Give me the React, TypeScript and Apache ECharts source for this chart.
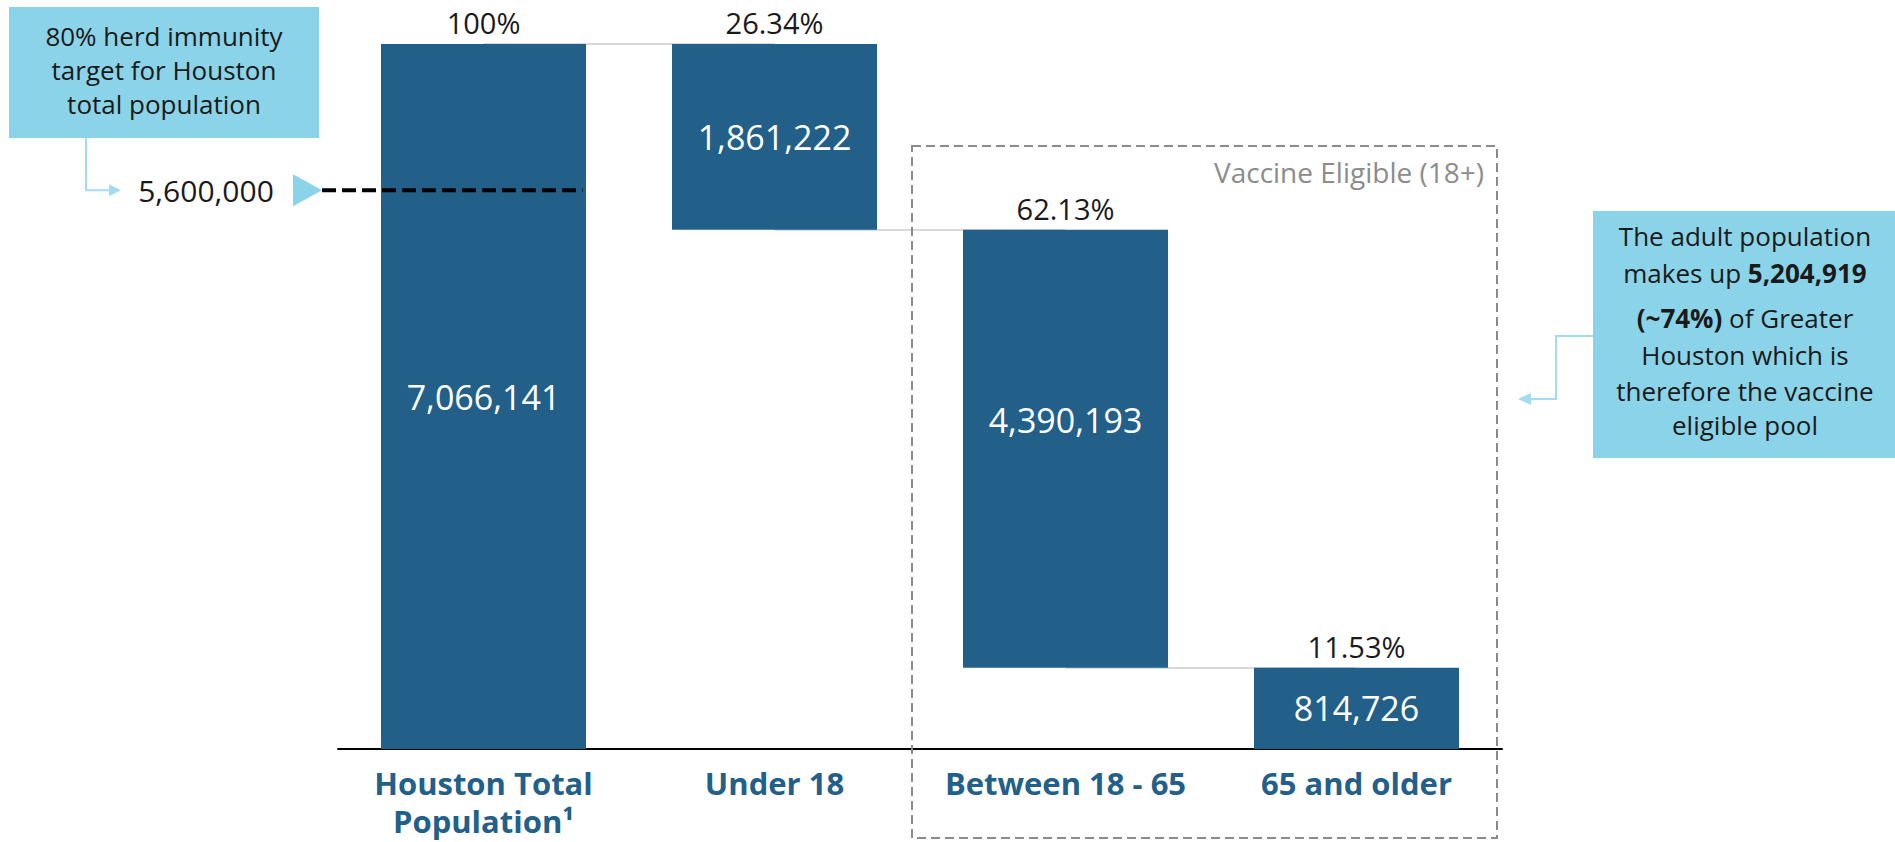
import React, { useEffect, useRef } from "react";
import * as echarts from "echarts";

// ---- data ----
const categories = ["Houston Total\nPopulation¹", "Under 18", "Between 18 - 65", "65 and older"];
const populationValues = [7066141, 1861222, 4390193, 814726];
const percentLabels = ["100%", "26.34%", "62.13%", "11.53%"];
const herdImmunityTarget = 5600000;
const herdImmunityLabel = "5,600,000";
const adultPopulationLabel = "5,204,919";
const adultShareLabel = "(~74%)";

// ---- styles ----
const FONT = '"Open Sans", "Noto Sans", sans-serif';
const BAR = "#22608A";
const CALLOUT = "#8BD3E8";
const ARROW = "#A3DCEF";
const TEXT = "#1a1a1a";

function waterfallBases(values: number[]) {
  const bases = [0];
  let running = values[0];
  for (let i = 1; i < values.length; i++) {
    running -= values[i];
    bases.push(running);
  }
  return bases;
}

function txt(text: string, x: number, y: number, size: number, extra: any = {}) {
  return {
    type: "text",
    x,
    y,
    z: 100,
    silent: true,
    style: {
      text,
      fill: TEXT,
      fontSize: size,
      fontFamily: FONT,
      align: "center",
      verticalAlign: "middle",
      textAlign: "center",
      textVerticalAlign: "middle",
      ...extra,
    },
  };
}

export default function App() {
  const ref = useRef<HTMLDivElement>(null);

  useEffect(() => {
    if (!ref.current) return;
    const chart = echarts.init(ref.current, null, { renderer: "svg" });
    const bases = waterfallBases(populationValues);
    const connectors = populationValues.slice(1).map((v, i) => {
      const level = bases[i + 1] + v;
      return [{ coord: [i, level] }, { coord: [i + 1, level] }];
    });

    chart.setOption({
      animation: false,
      grid: { left: 338, right: 393, top: 44, bottom: 93 },
      xAxis: {
        type: "category",
        data: categories,
        axisTick: { show: false },
        axisLine: { lineStyle: { color: "#000", width: 2 } },
        axisLabel: {
          interval: 0,
          color: BAR,
          fontWeight: "bold",
          fontSize: 31,
          fontFamily: FONT,
          lineHeight: 38,
          margin: 15,
        },
      },
      yAxis: { type: "value", min: 0, max: populationValues[0], show: false },
      series: [
        {
          name: "base",
          type: "bar",
          stack: "w",
          barWidth: 205,
          silent: true,
          itemStyle: { color: "transparent" },
          data: bases,
        },
        {
          name: "value",
          type: "bar",
          stack: "w",
          barWidth: 205,
          itemStyle: { color: BAR },
          data: populationValues.map((v, i) =>
            i === 2 ? { value: v, label: { offset: [0, -29] } } : v
          ),
          label: {
            show: true,
            position: "inside",
            color: "#fff",
            fontSize: 34,
            fontFamily: FONT,
            formatter: (p: any) => Number(p.value).toLocaleString("en-US"),
          },
          markLine: {
            silent: true,
            z: 1,
            symbol: ["none", "none"],
            label: { show: false },
            lineStyle: { color: "#D9D9D9", width: 2, type: "solid" },
            emphasis: { disabled: true },
            data: connectors,
          },
        },
        {
          name: "pct",
          type: "bar",
          stack: "w",
          barWidth: 205,
          silent: true,
          itemStyle: { color: "transparent" },
          data: populationValues.map(() => 0),
          label: {
            show: true,
            position: "top",
            distance: 7,
            color: TEXT,
            fontSize: 29,
            fontFamily: FONT,
            formatter: (p: any) => percentLabels[p.dataIndex],
          },
        },
      ],
    });

    const yT = chart.convertToPixel({ yAxisIndex: 0 }, herdImmunityTarget) as number;
    const x0 = chart.convertToPixel({ xAxisIndex: 0 }, 0) as number;

    const graphic: any[] = [
      // left callout
      { type: "rect", z: 90, shape: { x: 9, y: 7, width: 310, height: 131 }, style: { fill: CALLOUT } },
      txt("80% herd immunity\ntarget for Houston\ntotal population", 164, 70, 26, { lineHeight: 34 }),
      {
        type: "polyline",
        z: 90,
        shape: { points: [[86, 138], [86, yT], [110, yT]] },
        style: { stroke: ARROW, lineWidth: 2, fill: "none" },
      },
      { type: "polygon", z: 90, shape: { points: [[121, yT], [109, yT - 6], [109, yT + 6]] }, style: { fill: ARROW } },
      txt(herdImmunityLabel, 206, yT, 30),
      { type: "polygon", z: 90, shape: { points: [[293, yT - 16], [322, yT], [293, yT + 16]] }, style: { fill: CALLOUT } },
      {
        type: "line",
        z: 100,
        shape: { x1: 322, y1: yT, x2: x0 + 99, y2: yT },
        style: { stroke: "#000", lineWidth: 4, lineDash: [14, 6] },
      },
      // vaccine eligible box
      {
        type: "rect",
        z: 80,
        shape: { x: 912, y: 146, width: 585, height: 692 },
        style: { fill: "none", stroke: "#8a8a8a", lineWidth: 2, lineDash: [9, 5] },
      },
      txt("Vaccine Eligible (18+)", 1484, 172, 28, { fill: "#8c8c8c", align: "right", textAlign: "right" }),
      // right callout
      { type: "rect", z: 90, shape: { x: 1593, y: 211, width: 302, height: 247 }, style: { fill: CALLOUT } },
      txt("The adult population", 1745, 236, 26),
      txt("makes up {b|" + adultPopulationLabel + "}", 1745, 273, 26, {
        rich: { b: { fontSize: 26, fontFamily: FONT, fontWeight: "bold", fill: TEXT } },
      }),
      txt("{b|" + adultShareLabel + "} of Greater", 1745, 318, 26, {
        rich: { b: { fontSize: 26, fontFamily: FONT, fontWeight: "bold", fill: TEXT } },
      }),
      txt("Houston which is", 1745, 355, 26),
      txt("therefore the vaccine", 1745, 391, 26),
      txt("eligible pool", 1745, 425, 26),
      {
        type: "polyline",
        z: 90,
        shape: { points: [[1593, 336], [1556, 336], [1556, 399], [1530, 399]] },
        style: { stroke: ARROW, lineWidth: 2, fill: "none" },
      },
      { type: "polygon", z: 90, shape: { points: [[1518, 399], [1531, 393], [1531, 405]] }, style: { fill: ARROW } },
    ];

    chart.setOption({ graphic });

    return () => chart.dispose();
  }, []);

  return (
    <div
      ref={ref}
      style={{ position: "fixed", left: 0, top: 0, width: 1895, height: 842, background: "#fff" }}
    />
  );
}
